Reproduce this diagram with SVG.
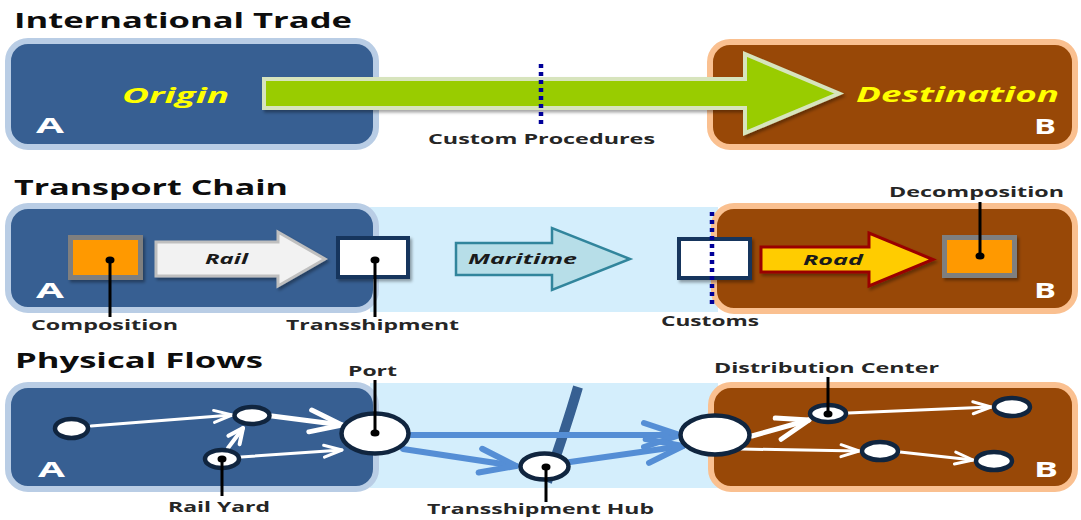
<svg xmlns="http://www.w3.org/2000/svg" width="1081" height="520" viewBox="0 0 1081 520">
  <defs>
    <style>
      .title{font-family:"Open Sans","Noto Sans","DejaVu Sans",sans-serif;font-weight:700;font-size:21px;fill:#0d0d0d}
      .lbl{font-family:"Open Sans","Noto Sans","DejaVu Sans",sans-serif;font-weight:700;font-size:15px;fill:#262626}
      .mode{font-family:"Open Sans","Noto Sans","DejaVu Sans",sans-serif;font-weight:700;font-style:italic;font-size:15px;fill:#1a1a1a}
      .place{font-family:"Open Sans","Noto Sans","DejaVu Sans",sans-serif;font-weight:700;font-style:italic;font-size:22px;fill:#ffff00}
      .corner{font-family:"Open Sans","Noto Sans","DejaVu Sans",sans-serif;font-weight:700;font-size:22px;fill:#ffffff}
      .boxA{fill:#375f92;stroke:#b9cde5;stroke-width:6}
      .boxB{fill:#984807;stroke:#fac090;stroke-width:6}
      .band{fill:#d4eefc}
      .border{fill:none;stroke:#000099;stroke-width:4.5;stroke-dasharray:4 4}
      .lead{stroke:#000;stroke-width:3}
      .dot{fill:#000}
      .node{fill:#fff;stroke:#10253f;stroke-width:4.5}
      .flow-w{fill:none;stroke:#fff;stroke-linecap:round}
      .flow-b{fill:none;stroke:#558ed5;stroke-width:6;stroke-linecap:round}
    </style>
    <filter id="shadow" x="-10%" y="-15%" width="130%" height="140%">
      <feDropShadow dx="2" dy="2.5" stdDeviation="1.5" flood-color="#000" flood-opacity="0.35"/>
    </filter>
    <!-- open chevron heads for the flow lines -->
    <marker id="chev-s" markerUnits="userSpaceOnUse" refX="18" refY="6" markerWidth="20" markerHeight="14" orient="auto" overflow="visible">
      <path d="M0,0 L18,6 L0,12" fill="none" stroke="#fff" stroke-width="3" stroke-linecap="round" stroke-linejoin="round"/>
    </marker>
    <marker id="chev-m" markerUnits="userSpaceOnUse" refX="15" refY="7" markerWidth="18" markerHeight="16" orient="auto" overflow="visible">
      <path d="M0,0 L15,7 L0,14" fill="none" stroke="#fff" stroke-width="4" stroke-linecap="round" stroke-linejoin="round"/>
    </marker>
    <marker id="chev-l" markerUnits="userSpaceOnUse" refX="32" refY="11" markerWidth="36" markerHeight="24" orient="auto" overflow="visible">
      <path d="M0,0 L32,11 L0,22" fill="none" stroke="#fff" stroke-width="5" stroke-linecap="round" stroke-linejoin="round"/>
    </marker>
    <marker id="chev-b" markerUnits="userSpaceOnUse" refX="36" refY="12" markerWidth="40" markerHeight="26" orient="auto" overflow="visible">
      <path d="M0,0 L36,12 L0,24" fill="none" stroke="#558ed5" stroke-width="6" stroke-linecap="round" stroke-linejoin="round"/>
    </marker>
  </defs>

  <rect width="1081" height="520" fill="#ffffff"/>

  <!-- ===== International Trade ===== -->
  <text class="title" x="14" y="28" textLength="338" lengthAdjust="spacingAndGlyphs">International Trade</text>

  <g id="trade-origin">
    <rect class="boxA" x="8" y="41" width="368" height="106" rx="20"/>
    <text class="place" x="122" y="103" textLength="107" lengthAdjust="spacingAndGlyphs">Origin</text>
    <text class="corner" x="36" y="133" textLength="28" lengthAdjust="spacingAndGlyphs">A</text>
  </g>

  <g id="trade-destination">
    <rect class="boxB" x="710" y="42" width="365" height="105" rx="20"/>
    <text class="place" x="856" y="102" textLength="203" lengthAdjust="spacingAndGlyphs">Destination</text>
    <text class="corner" x="1034" y="134" textLength="22" lengthAdjust="spacingAndGlyphs">B</text>
  </g>

  <g id="trade-flow">
    <path d="M264,79 H745 V54 L839,93.5 L745,133 V108 H264 Z" fill="#99cc00" stroke="#d7e4bd" stroke-width="4" filter="url(#shadow)"/>
  </g>

  <g id="custom-procedures">
    <line class="border" x1="541" y1="64" x2="541" y2="125"/>
    <text class="lbl" x="428" y="144" textLength="227" lengthAdjust="spacingAndGlyphs">Custom Procedures</text>
  </g>

  <!-- ===== Transport Chain ===== -->
  <text class="title" x="14" y="195" textLength="274" lengthAdjust="spacingAndGlyphs">Transport Chain</text>

  <rect class="band" x="370" y="207" width="348" height="105"/>

  <g id="chain-origin">
    <rect class="boxA" x="8" y="206" width="368" height="104" rx="20"/>
    <text class="corner" x="36" y="298" textLength="28" lengthAdjust="spacingAndGlyphs">A</text>
  </g>

  <g id="chain-destination">
    <rect class="boxB" x="714" y="206" width="361" height="105" rx="20"/>
    <text class="corner" x="1034" y="298" textLength="22" lengthAdjust="spacingAndGlyphs">B</text>
  </g>

  <g id="chain-connectors">
    <g id="rail">
      <path d="M156,242 H278 V232 L325,259 L278,286 V276 H156 Z" fill="#f2f2f2" stroke="#bfbfbf" stroke-width="3" filter="url(#shadow)"/>
      <text class="mode" x="205" y="264" textLength="43" lengthAdjust="spacingAndGlyphs">Rail</text>
    </g>
    <g id="maritime">
      <path d="M456,243 H552 V228 L630,259 L552,290 V275 H456 Z" fill="#b7dee8" stroke="#31859c" stroke-width="2.5"/>
      <text class="mode" x="468" y="264" textLength="109" lengthAdjust="spacingAndGlyphs">Maritime</text>
    </g>
    <g id="road">
      <path d="M761,247 H869 V233 L933,259.5 L869,286 V272 H761 Z" fill="#ffcc00" stroke="#990000" stroke-width="3" filter="url(#shadow)"/>
      <text class="mode" x="803" y="265" textLength="60" lengthAdjust="spacingAndGlyphs">Road</text>
    </g>
  </g>

  <g id="composition">
    <rect x="70.5" y="237.5" width="70" height="40" fill="#ff9900" stroke="#7f7f7f" stroke-width="5" filter="url(#shadow)"/>
    <line class="lead" x1="110" y1="260" x2="110" y2="317"/>
    <ellipse class="dot" cx="110" cy="260" rx="4.5" ry="3.5"/>
    <text class="lbl" x="31" y="330" textLength="147" lengthAdjust="spacingAndGlyphs">Composition</text>
  </g>

  <g id="transshipment">
    <rect x="338" y="238" width="70" height="39" fill="#ffffff" stroke="#17365d" stroke-width="4" filter="url(#shadow)"/>
    <line class="lead" x1="375" y1="260" x2="375" y2="317"/>
    <ellipse class="dot" cx="375" cy="260" rx="4.5" ry="3.5"/>
    <text class="lbl" x="286" y="330" textLength="173" lengthAdjust="spacingAndGlyphs">Transshipment</text>
  </g>

  <g id="customs">
    <rect x="679" y="239" width="71" height="39" fill="#ffffff" stroke="#17365d" stroke-width="4" filter="url(#shadow)"/>
    <line class="border" x1="712" y1="212" x2="712" y2="306"/>
    <text class="lbl" x="661" y="326" textLength="98" lengthAdjust="spacingAndGlyphs">Customs</text>
  </g>

  <g id="decomposition">
    <rect x="944.5" y="237.5" width="70" height="38" fill="#ff9900" stroke="#7f7f7f" stroke-width="5" filter="url(#shadow)"/>
    <line class="lead" x1="980" y1="256" x2="980" y2="202"/>
    <ellipse class="dot" cx="980" cy="256" rx="4.5" ry="3.5"/>
    <text class="lbl" x="889" y="197" textLength="175" lengthAdjust="spacingAndGlyphs">Decomposition</text>
  </g>

  <!-- ===== Physical Flows ===== -->
  <text class="title" x="15" y="368" textLength="248" lengthAdjust="spacingAndGlyphs">Physical Flows</text>

  <rect class="band" x="370" y="383" width="348" height="105"/>

  <g id="flows-origin">
    <rect class="boxA" x="8" y="385" width="368" height="104" rx="20"/>
    <text class="corner" x="38" y="477" textLength="27" lengthAdjust="spacingAndGlyphs">A</text>
  </g>

  <g id="flows-destination">
    <rect class="boxB" x="711" y="385" width="364" height="104" rx="20"/>
    <text class="corner" x="1034" y="477" textLength="24" lengthAdjust="spacingAndGlyphs">B</text>
  </g>

  <g id="flow-connectors">
    <!-- feeder route into the hub -->
    <path d="M578,387 Q566,428 547,482" fill="none" stroke="#376092" stroke-width="10"/>
    <!-- maritime legs -->
    <line class="flow-b" x1="411" y1="435" x2="680" y2="435" marker-end="url(#chev-b)"/>
    <line class="flow-b" x1="403" y1="449" x2="516" y2="466" marker-end="url(#chev-b)"/>
    <line class="flow-b" x1="570" y1="462" x2="683" y2="446" marker-end="url(#chev-b)"/>
    <!-- inland legs at the origin -->
    <line class="flow-w" stroke-width="3" x1="91" y1="426" x2="232" y2="415" marker-end="url(#chev-s)"/>
    <line class="flow-w" stroke-width="5" x1="272" y1="416" x2="342" y2="425" marker-end="url(#chev-l)"/>
    <line class="flow-w" stroke-width="4" x1="228" y1="448" x2="243" y2="428" marker-end="url(#chev-m)"/>
    <line class="flow-w" stroke-width="3" x1="241" y1="457" x2="342" y2="450" marker-end="url(#chev-s)"/>
    <!-- inland legs at the destination -->
    <line class="flow-w" stroke-width="5" x1="752" y1="436" x2="809" y2="420" marker-end="url(#chev-l)"/>
    <line class="flow-w" stroke-width="3" x1="848" y1="413" x2="991" y2="407" marker-end="url(#chev-s)"/>
    <line class="flow-w" stroke-width="3" x1="741" y1="449" x2="859" y2="451" marker-end="url(#chev-s)"/>
    <line class="flow-w" stroke-width="3" x1="900" y1="452" x2="973" y2="460" marker-end="url(#chev-s)"/>
  </g>

  <g id="node-origin-1"><ellipse class="node" cx="71.5" cy="428.5" rx="16.5" ry="9.5"/></g>
  <g id="node-origin-2"><ellipse class="node" cx="252" cy="415.5" rx="17.5" ry="8.5"/></g>

  <g id="rail-yard">
    <ellipse class="node" cx="222" cy="459" rx="17" ry="9"/>
    <line class="lead" x1="222" y1="459" x2="222" y2="496"/>
    <ellipse class="dot" cx="222" cy="459" rx="4.5" ry="3.5"/>
    <text class="lbl" x="168" y="512" textLength="102" lengthAdjust="spacingAndGlyphs">Rail Yard</text>
  </g>

  <g id="port">
    <ellipse class="node" cx="375" cy="433.5" rx="33.5" ry="20" stroke-width="5"/>
    <line class="lead" x1="375" y1="433" x2="375" y2="380"/>
    <ellipse class="dot" cx="375" cy="433" rx="4.5" ry="3.5"/>
    <text class="lbl" x="348" y="376" textLength="49" lengthAdjust="spacingAndGlyphs">Port</text>
  </g>

  <g id="transshipment-hub">
    <ellipse class="node" cx="544.5" cy="466.5" rx="24" ry="13" stroke-width="5"/>
    <line class="lead" x1="546" y1="467" x2="546" y2="502"/>
    <ellipse class="dot" cx="546" cy="467" rx="4.5" ry="3.5"/>
    <text class="lbl" x="427" y="514" textLength="227" lengthAdjust="spacingAndGlyphs">Transshipment Hub</text>
  </g>

  <g id="gateway-b"><ellipse class="node" cx="715" cy="435" rx="34.5" ry="19.5" stroke-width="5"/></g>

  <g id="distribution-center">
    <ellipse class="node" cx="828" cy="413.5" rx="18" ry="8.5"/>
    <line class="lead" x1="828" y1="414" x2="828" y2="377"/>
    <ellipse class="dot" cx="828" cy="414" rx="4.5" ry="3.5"/>
    <text class="lbl" x="714" y="373" textLength="225" lengthAdjust="spacingAndGlyphs">Distribution Center</text>
  </g>

  <g id="node-dest-1"><ellipse class="node" cx="1012" cy="407" rx="18" ry="9"/></g>
  <g id="node-dest-2"><ellipse class="node" cx="880" cy="451" rx="18" ry="9"/></g>
  <g id="node-dest-3"><ellipse class="node" cx="994" cy="461" rx="18" ry="9"/></g>
</svg>
